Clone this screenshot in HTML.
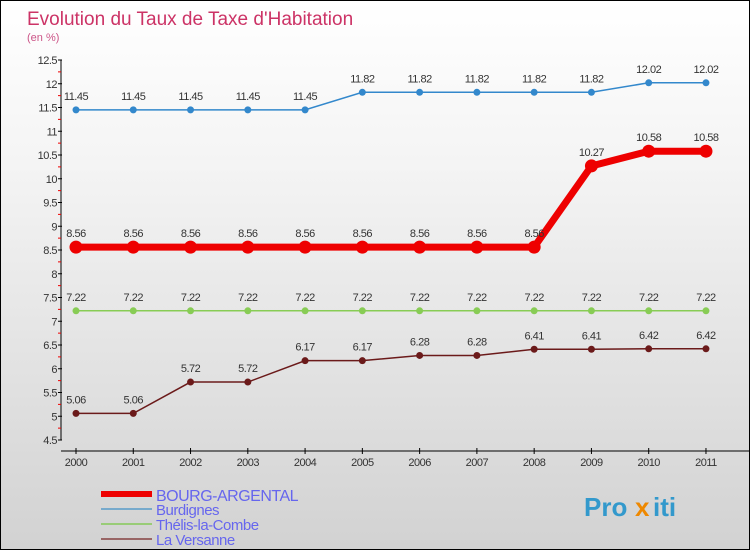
<!DOCTYPE html>
<html><head><meta charset="utf-8"><style>
body{margin:0;}
#c{width:748px;height:548px;border:1px solid #000;background:linear-gradient(#fff,#f4f4f4 30%,#d2d2d2);position:relative;overflow:hidden;font-family:"Liberation Sans",sans-serif;}
</style></head><body>
<div id="c">
<svg id="s" width="748" height="548" style="position:absolute;left:0;top:0"></svg>
</div>
<script>
const years=[2000,2001,2002,2003,2004,2005,2006,2007,2008,2009,2010,2011];
const bourg=[8.56,8.56,8.56,8.56,8.56,8.56,8.56,8.56,8.56,10.27,10.58,10.58];
const burd=[11.45,11.45,11.45,11.45,11.45,11.82,11.82,11.82,11.82,11.82,12.02,12.02];
const thelis=[7.22,7.22,7.22,7.22,7.22,7.22,7.22,7.22,7.22,7.22,7.22,7.22];
const versanne=[5.06,5.06,5.72,5.72,6.17,6.17,6.28,6.28,6.41,6.41,6.42,6.42];
const yTicks=[4.5,5,5.5,6,6.5,7,7.5,8,8.5,9,9.5,10,10.5,11,11.5,12,12.5];
const names=["BOURG-ARGENTAL","Burdignes","Thélis-la-Combe","La Versanne"];
const NS="http://www.w3.org/2000/svg";
const s=document.getElementById('s');
function X(i){return 75+i*57.27;}
function Y(v){return 439-(v-4.5)*47.5;}
function el(t,a,txt){const e=document.createElementNS(NS,t);for(const k in a)e.setAttribute(k,a[k]);if(txt!==undefined)e.textContent=txt;s.appendChild(e);return e;}
let e;
e=el('text',{x:26,y:24,fill:'#cc3366','font-size':19},'Evolution du Taux de Taxe d\'Habitation');


e=el('text',{x:26,y:40,fill:'#cc5588','font-size':11},'(en %)');


e=el('line',{x1:60,y1:Y(12.5),x2:60,y2:Y(4.5),stroke:'#000','stroke-width':1});


yTicks.forEach((v,i)=>{
 const t=el('line',{x1:57,y1:Y(v),x2:61,y2:Y(v),stroke:'#000'});
 
 
 const l=el('text',{x:56,y:Y(v)+4,'text-anchor':'end','font-size':11,fill:'#333','letter-spacing':'-0.5'},String(v));
 
 
 if(i<yTicks.length-1){const m=el('line',{x1:57,y1:Y(v+0.25),x2:60,y2:Y(v+0.25),stroke:'#e00'});
 
 }
});
e=el('line',{x1:60,y1:450,x2:748,y2:450,stroke:'#000'});


years.forEach((yr,i)=>{
 const t=el('line',{x1:X(i),y1:447,x2:X(i),y2:453,stroke:'#000'});
 
 
 const l=el('text',{x:X(i),y:465,'text-anchor':'middle','font-size':11,fill:'#333','letter-spacing':'-0.5'},String(yr));
 
 
});
function series(data,color,w,r,name){
 const p=el('polyline',{points:data.map((v,i)=>X(i)+','+Y(v)).join(' '),fill:'none',stroke:color,'stroke-width':w});
 
 
 data.forEach((v,i)=>{
  const c=el('circle',{cx:X(i),cy:Y(v),r:r,fill:color});
  
  
  const l=el('text',{x:X(i),y:Y(v)-10,'text-anchor':'middle','font-size':11,fill:'#333','letter-spacing':'-0.5'},String(v));
  
  
 });
}
series(versanne,'#6b1a1a',1.5,3.5,'la-versanne');
series(thelis,'#88cc55',1.5,3.5,'thelis-la-combe');
series(burd,'#3388cc',1.5,3.5,'burdignes');
series(bourg,'#ee0000',7,6.5,'bourg-argental');
const lc=['#ee0000','#77aacc','#99cc77','#996666'];
const lw=[6,2,2,2];
const ly=[493,508,523,538];
names.forEach((n,i)=>{
 const l=el('line',{x1:100,y1:ly[i],x2:151,y2:ly[i],stroke:lc[i],'stroke-width':lw[i]});
 
 
 const t=el('text',{x:155,y:ly[i]+(i==0?7:6),'font-size':i==0?16:15,fill:'#6666ee','letter-spacing':'-0.5'},n);
 
 
});
e=el('text',{x:583,y:515,'font-size':26,'font-weight':'bold',fill:'#3399cc'},'Pro');


e=el('text',{x:634,y:515,'font-size':26,'font-weight':'bold',fill:'#ee8800'},'x');


e=el('text',{x:652,y:515,'font-size':26,'font-weight':'bold',fill:'#3399cc'},'iti');


</script>
</body></html>
